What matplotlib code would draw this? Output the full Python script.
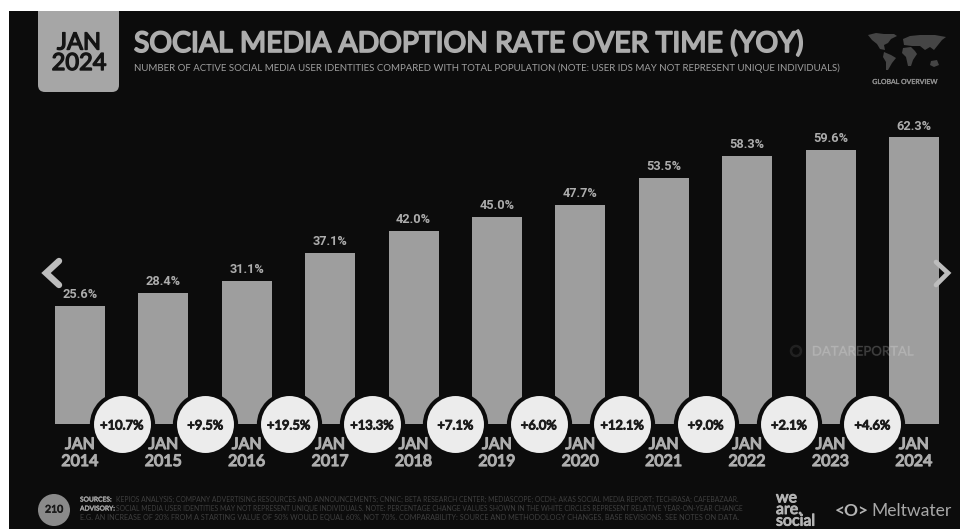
#!/usr/bin/env python3
"""Social media adoption rate slide, dark theme."""

import matplotlib

matplotlib.use("Agg")
import matplotlib.patheffects as pe
import matplotlib.pyplot as plt
from matplotlib.patches import Circle, FancyBboxPatch, Polygon, Rectangle

YEARS = [2014, 2015, 2016, 2017, 2018, 2019, 2020, 2021, 2022, 2023, 2024]
ADOPTION = [25.6, 28.4, 31.1, 37.1, 42.0, 45.0, 47.7, 53.5, 58.3, 59.6, 62.3]
YOY_CHANGE = ["+10.7%", "+9.5%", "+19.5%", "+13.3%", "+7.1%", "+6.0%",
              "+12.1%", "+9.0%", "+2.1%", "+4.6%"]

TITLE = "SOCIAL MEDIA ADOPTION RATE OVER TIME (YOY)"
SUBTITLE = ("NUMBER OF ACTIVE SOCIAL MEDIA USER IDENTITIES COMPARED WITH TOTAL "
            "POPULATION (NOTE: USER IDS MAY NOT REPRESENT UNIQUE INDIVIDUALS)")
FOOTNOTES = [
    ("SOURCES:", "KEPIOS ANALYSIS; COMPANY ADVERTISING RESOURCES AND ANNOUNCEMENTS; CNNIC; BETA RESEARCH CENTER; MEDIASCOPE; OCDH; AKAS SOCIAL MEDIA REPORT; TECHRASA; CAFEBAZAAR."),
    ("ADVISORY:", "SOCIAL MEDIA USER IDENTITIES MAY NOT REPRESENT UNIQUE INDIVIDUALS. NOTE: PERCENTAGE CHANGE VALUES SHOWN IN THE WHITE CIRCLES REPRESENT RELATIVE YEAR-ON-YEAR CHANGE"),
    ("", "E.G. AN INCREASE OF 20% FROM A STARTING VALUE OF 50% WOULD EQUAL 60%, NOT 70%. COMPARABILITY: SOURCE AND METHODOLOGY CHANGES, BASE REVISIONS. SEE NOTES ON DATA."),
]

BG = "#0c0c0c"
BAR = "#9e9e9e"
TEXT = "#adadad"
W, H = 960, 529

plt.rcParams["font.family"] = ["Lato", "DejaVu Sans"]


def heavy(color, width=0.7):
    """Stroke that thickens text drawn in a regular weight."""
    return [pe.withStroke(linewidth=width, foreground=color)]


fig = plt.figure(figsize=(W / 100, H / 100), dpi=100, facecolor="white")

# page layer in pixel coordinates, y pointing down
page = fig.add_axes([0, 0, 1, 1], zorder=0)
page.set_xlim(0, W)
page.set_ylim(H, 0)
page.axis("off")
page.add_patch(Rectangle((9, 11), W - 9, H - 11, color=BG, lw=0))

# date tab
page.add_patch(FancyBboxPatch((38, 0), 81, 92, boxstyle="round,pad=0,rounding_size=7",
                              fc="#a6a6a6", ec="none"))
page.add_patch(Rectangle((0, 0), W, 11, color="white", lw=0))
page.text(79, 43, "JAN", color="#141414", fontsize=17, ha="center", va="center",
          path_effects=heavy("#141414", 1.0))
page.text(79, 63.5, "2024", color="#141414", fontsize=17, ha="center", va="center",
          path_effects=heavy("#141414", 1.0))

page.text(134, 43.5, TITLE, color=TEXT, fontsize=20.4, ha="left", va="center",
          path_effects=heavy(TEXT, 1.3))
page.text(134, 68.5, SUBTITLE, color="#a0a0a0", fontsize=6.9, ha="left", va="center")

# bars, in their own data scale
chart = fig.add_axes([0, (H - 424) / H, 1, 424 / H], zorder=1)
chart.patch.set_alpha(0)
chart.axis("off")
step = 83.4
chart.set_xlim(-80 / step, (W - 80) / step)
chart.set_ylim(0, 424 / 4.6)

positions = [y - YEARS[0] for y in YEARS]
chart.bar(positions, ADOPTION, width=50 / step, color=BAR, linewidth=0)

for x, value in zip(positions, ADOPTION):
    chart.annotate(f"{value:.1f}%", (x, value), xytext=(0, 3.5), textcoords="offset points",
                   ha="center", va="bottom", color=TEXT, fontsize=9.2, fontweight="bold",
                   family=["Roboto", "DejaVu Sans"])

# change badges sit between neighbouring bars on the baseline
for x, label in zip(positions[:-1], YOY_CHANGE):
    cx = x + 0.5
    chart.scatter(cx, 0, s=(2 * 23.5) ** 2, color=BG, linewidths=0, clip_on=False, zorder=3)
    chart.scatter(cx, 0, s=(2 * 20.5) ** 2, color="#ececec", linewidths=0, clip_on=False, zorder=4)
    chart.annotate(label, (cx, 0), xytext=(0, -1), textcoords="offset points", ha="center",
                   va="center", color="#1c1c1c", fontsize=9.3, zorder=5,
                   annotation_clip=False, path_effects=heavy("#1c1c1c", 0.8))

# date labels under the baseline
over = fig.add_axes([0, 0, 1, 1], zorder=2)
over.patch.set_alpha(0)
over.set_xlim(0, W)
over.set_ylim(H, 0)
over.axis("off")
for x, year in zip(positions, YEARS):
    px = 80 + x * step
    over.text(px, 445, "JAN", color=TEXT, fontsize=11.5, ha="center", va="center",
              path_effects=heavy(TEXT, 0.9))
    over.text(px, 462, str(year), color=TEXT, fontsize=11.5, ha="center", va="center",
              path_effects=heavy(TEXT, 0.9))

# carousel arrows
over.plot([59, 46, 59], [261, 273, 285], color="#bdbdbd", lw=4.6, solid_joinstyle="miter",
          solid_capstyle="round")
over.plot([936, 948, 936], [262, 273, 285], color="#bdbdbd", lw=3.4, solid_joinstyle="miter",
          solid_capstyle="round")

# faint watermark across the last bars
over.add_patch(Circle((796, 351), 5, fc="none", ec="white", lw=1.8, alpha=0.09))
over.text(863, 351.5, "DATAREPORTAL", color="white", fontsize=9.5, ha="center", va="center",
          alpha=0.09, path_effects=heavy("white", 0.6))

# world map glyph
land = [
    [(868, 35), (876, 33), (884, 34), (894, 34), (897, 36), (891, 39), (888, 43),
     (884, 45), (885, 50), (880, 49), (877, 44), (872, 40)],
    [(884, 52), (891, 55), (896, 58), (892, 63), (888, 70), (886, 70), (886, 62), (883, 57)],
    [(903, 39), (910, 36), (920, 35), (935, 35), (946, 37), (942, 40), (938, 45),
     (934, 50), (930, 47), (925, 50), (920, 46), (912, 46), (904, 45)],
    [(903, 48), (911, 47), (915, 51), (917, 54), (913, 60), (911, 66), (908, 66), (906, 57), (902, 53)],
    [(931, 61), (937, 60), (939, 65), (934, 67), (930, 65)],
]
for shape in land:
    over.add_patch(Polygon(shape, fc="#454545", ec="none"))
over.text(905, 81.5, "GLOBAL OVERVIEW", color="#8f8f8f", fontsize=5.0, ha="center", va="center",
          path_effects=heavy("#8f8f8f", 0.2))

# footer
over.add_patch(Circle((54, 510), 16, fc="#8a8a8a", ec="none"))
over.text(54, 510, "210", color="#1a1a1a", fontsize=7.5, ha="center", va="center",
          path_effects=heavy("#1a1a1a", 0.5))
for i, (head, body) in enumerate(FOOTNOTES):
    y = 499 + i * 9
    x = 80
    if head:
        over.text(x, y, head, color="#a0a0a0", fontsize=4.8, va="center",
                  path_effects=heavy("#a0a0a0", 0.3))
        x = 116
    over.text(x, y, body, color="#3f3f3f", fontsize=4.9 if head else 5.2, va="center")

over.text(776, 510, "we\nare.\nsocial", color="#b4b4b4", fontsize=11.5, ha="left", va="center",
          linespacing=0.78, path_effects=heavy("#b4b4b4", 0.7))
over.text(835, 511, "<O>", color="#b4b4b4", fontsize=12.5, fontweight="bold", ha="left", va="center")
over.text(871, 511, "Meltwater", color="#a8a8a8", fontsize=12.6, ha="left", va="center")

fig.savefig("out.png", dpi=100, facecolor=fig.get_facecolor())
